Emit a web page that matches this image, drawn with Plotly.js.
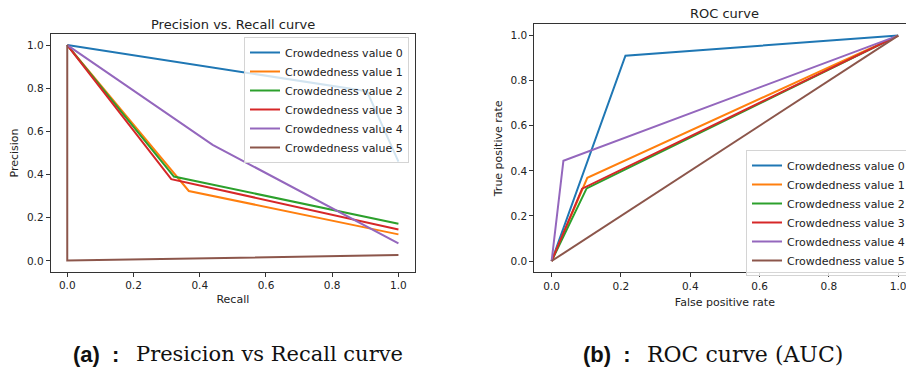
<!DOCTYPE html>
<html>
<head>
<meta charset="utf-8">
<script src="https://cdn.plot.ly/plotly-3.0.1.min.js"></script>
<style>
  html, body { margin: 0; padding: 0; overflow: hidden; background: #fff; }
  #chart { width: 930px; height: 369px; }
</style>
</head>
<body>
<div id="chart"></div>
<script>
// ---------- data ----------
const classNames = ['Crowdedness value 0', 'Crowdedness value 1', 'Crowdedness value 2',
                    'Crowdedness value 3', 'Crowdedness value 4', 'Crowdedness value 5'];
const seriesColors = ['#1f77b4', '#ff7f0e', '#2ca02c', '#d62728', '#9467bd', '#8c564b'];

// Precision vs Recall curve (one array per class)
const prRecall = [
  [1, 0.905, 0],
  [1, 0.367, 0],
  [1, 0.322, 0],
  [1, 0.314, 0],
  [1, 0.439, 0],
  [1, 0, 0]
];
const prPrecision = [
  [0.46, 0.786, 1],
  [0.123, 0.324, 1],
  [0.172, 0.391, 1],
  [0.146, 0.379, 1],
  [0.081, 0.538, 1],
  [0.027, 0.002, 1]
];

// ROC curve (one array per class)
const rocFpr = [
  [0, 0.213, 1],
  [0, 0.103, 1],
  [0, 0.101, 1],
  [0, 0.088, 1],
  [0, 0.034, 1],
  [0, 1]
];
const rocTpr = [
  [0, 0.911, 1],
  [0, 0.369, 1],
  [0, 0.322, 1],
  [0, 0.321, 1],
  [0, 0.445, 1],
  [0, 1]
];

const tickVals = [0, 0.2, 0.4, 0.6, 0.8, 1.0];
const tickText = ['0.0', '0.2', '0.4', '0.6', '0.8', '1.0'];

// ---------- layout helpers ----------
const W = 930, H = 369;
const fx = p => p / W;
const fy = p => 1 - p / H;

const traces = [];
classNames.forEach((name, i) => {
  traces.push({
    x: prRecall[i], y: prPrecision[i], name: name, type: 'scatter', mode: 'lines',
    line: { color: seriesColors[i], width: 2 }, xaxis: 'x', yaxis: 'y', legend: 'legend'
  });
});
classNames.forEach((name, i) => {
  traces.push({
    x: rocFpr[i], y: rocTpr[i], name: name, type: 'scatter', mode: 'lines',
    line: { color: seriesColors[i], width: 2 }, xaxis: 'x2', yaxis: 'y2', legend: 'legend2'
  });
});

const tickFont = { family: 'DejaVu Sans', size: 10.5, color: '#222' };
const titleFont = { family: 'DejaVu Sans', size: 11, color: '#222' };

function axisBase(extra) {
  return Object.assign({
    range: [-0.05, 1.05], showgrid: false, zeroline: false,
    showline: true, mirror: true, linecolor: '#333', linewidth: 1,
    ticks: 'outside', ticklen: 4, tickwidth: 1, tickcolor: '#333',
    tickvals: tickVals, ticktext: tickText, tickfont: tickFont,
    fixedrange: true
  }, extra);
}

const legendBase = {
  font: { family: 'DejaVu Sans', size: 11, color: '#222' },
  bgcolor: 'rgba(255,255,255,0.8)', bordercolor: '#d4d4d4', borderwidth: 1,
  xanchor: 'right', yanchor: 'top', itemclick: false, itemdoubleclick: false
};

const layout = {
  width: W, height: H,
  margin: { l: 0, r: 0, t: 0, b: 0 },
  paper_bgcolor: '#fff', plot_bgcolor: '#fff',
  showlegend: true,
  xaxis: axisBase({ domain: [fx(50.7), fx(415)], anchor: 'y',
    title: { text: 'Recall', font: titleFont, standoff: 5 } }),
  yaxis: axisBase({ domain: [fy(271.7), fy(34.3)], anchor: 'x',
    title: { text: 'Precision', font: titleFont, standoff: 6 } }),
  xaxis2: axisBase({ domain: [fx(534.3), fx(915.5)], anchor: 'y2',
    title: { text: 'False positive rate', font: titleFont, standoff: 7 } }),
  yaxis2: axisBase({ domain: [fy(272.3), fy(24.3)], anchor: 'x2',
    title: { text: 'True positive rate', font: titleFont, standoff: 5 } }),
  legend: Object.assign({}, legendBase, { x: fx(409), y: fy(37) }),
  legend2: Object.assign({}, legendBase, { xanchor: 'left', x: fx(746), y: fy(150) }),
  annotations: [
    { text: 'Precision vs. Recall curve', xref: 'paper', yref: 'paper',
      x: fx(232.8), y: fy(24), xanchor: 'center', yanchor: 'middle', showarrow: false,
      font: { family: 'DejaVu Sans', size: 13, color: '#222' } },
    { text: 'ROC curve', xref: 'paper', yref: 'paper',
      x: fx(724.5), y: fy(13.5), xanchor: 'center', yanchor: 'middle', showarrow: false,
      font: { family: 'DejaVu Sans', size: 13, color: '#222' } },
    { text: '<b>(a)&nbsp; :</b>', xref: 'paper', yref: 'paper',
      x: fx(71), y: fy(354), xanchor: 'left', yanchor: 'middle', showarrow: false,
      font: { family: 'Liberation Sans', size: 22, color: '#111' } },
    { text: 'Presicion vs Recall curve', xref: 'paper', yref: 'paper',
      x: fx(134), y: fy(354), xanchor: 'left', yanchor: 'middle', showarrow: false,
      font: { family: 'DejaVu Serif', size: 21, color: '#111' } },
    { text: '<b>(b)&nbsp; :</b>', xref: 'paper', yref: 'paper',
      x: fx(581), y: fy(354), xanchor: 'left', yanchor: 'middle', showarrow: false,
      font: { family: 'Liberation Sans', size: 22, color: '#111' } },
    { text: 'ROC curve (AUC)', xref: 'paper', yref: 'paper',
      x: fx(645), y: fy(354), xanchor: 'left', yanchor: 'middle', showarrow: false,
      font: { family: 'DejaVu Serif', size: 22, color: '#111' } }
  ]
};

Plotly.newPlot('chart', traces, layout, { displayModeBar: false, staticPlot: true });
</script>
</body>
</html>
